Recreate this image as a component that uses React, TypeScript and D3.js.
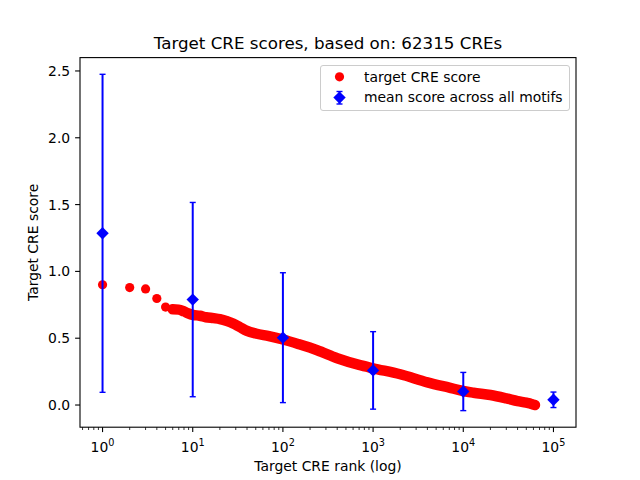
import React, { useEffect, useRef } from "react";
import * as d3 from "d3";

const ranks = [
  1, 2, 3, 4, 5, 6, 7, 8, 9, 10, 12, 14, 17, 20, 24, 28, 33, 40, 50, 70, 100,
  150, 240, 400, 700, 1000, 2000, 4000, 7000, 10000, 13000, 20000, 30000,
  40000, 50000, 57000, 62315,
];
const scores = [
  0.9, 0.879, 0.869, 0.797, 0.733, 0.716, 0.714, 0.7, 0.685, 0.675, 0.668,
  0.657, 0.65, 0.643, 0.628, 0.61, 0.585, 0.555, 0.535, 0.515, 0.49, 0.455,
  0.41, 0.35, 0.3, 0.275, 0.23, 0.17, 0.13, 0.105, 0.092, 0.075, 0.05, 0.03,
  0.017, 0.008, 0.0,
];

// mean score across all motifs, with error bars
const meanRanks = [1, 10, 100, 1000, 10000, 100000];
const meanScores = [1.285, 0.789, 0.504, 0.259, 0.101, 0.039];
const meanErrors = [1.19, 0.727, 0.486, 0.29, 0.143, 0.058];

const yTicks = [0, 0.5, 1, 1.5, 2, 2.5];
const xTickExps = [0, 1, 2, 3, 4, 5];

const title = "Target CRE scores, based on: 62315 CREs";
const xLabel = "Target CRE rank (log)";
const yLabel = "Target CRE score";
const legendLabels = ["target CRE score", "mean score across all motifs"];

const RED = "#ff0000";
const BLUE = "#0000ff";
const FONT = "DejaVu Sans, sans-serif";

const App: React.FC = () => {
  const chartRef = useRef<SVGSVGElement | null>(null);
  const width = 640;
  const height = 480;

  useEffect(() => {
    if (!chartRef.current) return;
    const svg = d3.select(chartRef.current);
    svg.selectAll("*").remove();

    const left = 80;
    const right = 576;
    const top = 57.6;
    const bottom = 427.2;

    const x = d3
      .scaleLog()
      .domain([Math.pow(10, -0.25), Math.pow(10, 5.25)])
      .range([left, right]);
    const y = d3.scaleLinear().domain([-0.166, 2.6]).range([bottom, top]);

    svg
      .append("rect")
      .attr("width", width)
      .attr("height", height)
      .attr("fill", "white");

    const pts = ranks.map((r, i) => ({ r, s: scores[i] }));

    // dense part of the red markers drawn as a thick band
    const band = d3
      .line<{ r: number; s: number }>()
      .x((d) => x(d.r))
      .y((d) => y(d.s))
      .curve(d3.curveMonotoneX);
    svg
      .append("path")
      .attr("d", band(pts.filter((d) => d.r >= 6)) || "")
      .attr("fill", "none")
      .attr("stroke", RED)
      .attr("stroke-width", 10.5)
      .attr("stroke-linecap", "round")
      .attr("stroke-linejoin", "round");

    svg
      .append("g")
      .selectAll("circle")
      .data(pts)
      .enter()
      .append("circle")
      .attr("cx", (d) => x(d.r))
      .attr("cy", (d) => y(d.s))
      .attr("r", 4.6)
      .attr("fill", RED);

    // error bars
    const eb = svg.append("g").attr("stroke", BLUE);
    meanRanks.forEach((r, i) => {
      const cx = x(r);
      const y1 = y(meanScores[i] + meanErrors[i]);
      const y2 = y(meanScores[i] - meanErrors[i]);
      eb.append("line")
        .attr("x1", cx)
        .attr("x2", cx)
        .attr("y1", y1)
        .attr("y2", y2)
        .attr("stroke-width", 2);
      [y1, y2].forEach((cy) =>
        eb
          .append("line")
          .attr("x1", cx - 3)
          .attr("x2", cx + 3)
          .attr("y1", cy)
          .attr("y2", cy)
          .attr("stroke-width", 1.4)
      );
    });

    const diamond = (cx: number, cy: number, h = 6.2) =>
      `M${cx},${cy - h}L${cx + h},${cy}L${cx},${cy + h}L${cx - h},${cy}Z`;
    svg
      .append("g")
      .selectAll("path")
      .data(meanRanks)
      .enter()
      .append("path")
      .attr("d", (r, i) => diamond(x(r), y(meanScores[i])))
      .attr("fill", BLUE);

    // spines
    svg
      .append("rect")
      .attr("x", left)
      .attr("y", top)
      .attr("width", right - left)
      .attr("height", bottom - top)
      .attr("fill", "none")
      .attr("stroke", "black")
      .attr("stroke-width", 1.1);

    // y axis
    const yg = svg.append("g").attr("font-family", FONT).attr("font-size", 13.9);
    yTicks.forEach((t) => {
      yg.append("line")
        .attr("x1", left - 4.9)
        .attr("x2", left)
        .attr("y1", y(t))
        .attr("y2", y(t))
        .attr("stroke", "black")
        .attr("stroke-width", 1.1);
      yg.append("text")
        .attr("x", left - 9.8)
        .attr("y", y(t))
        .attr("dy", "0.36em")
        .attr("text-anchor", "end")
        .text(d3.format(".1f")(t));
    });

    // x axis, major + minor log ticks
    const xg = svg.append("g").attr("font-family", FONT).attr("font-size", 13.9);
    const [d0, d1] = x.domain();
    for (let e = -1; e <= 5; e++) {
      for (let m = 2; m <= 9; m++) {
        const v = m * Math.pow(10, e);
        if (v < d0 || v > d1) continue;
        xg.append("line")
          .attr("x1", x(v))
          .attr("x2", x(v))
          .attr("y1", bottom)
          .attr("y2", bottom + 2.8)
          .attr("stroke", "black")
          .attr("stroke-width", 0.8);
      }
    }
    xTickExps.forEach((e) => {
      const v = Math.pow(10, e);
      xg.append("line")
        .attr("x1", x(v))
        .attr("x2", x(v))
        .attr("y1", bottom)
        .attr("y2", bottom + 4.9)
        .attr("stroke", "black")
        .attr("stroke-width", 1.1);
      const t = xg
        .append("text")
        .attr("x", x(v))
        .attr("y", 452)
        .attr("text-anchor", "middle");
      t.append("tspan").text("10");
      t.append("tspan")
        .attr("font-size", 9.7)
        .attr("dy", -6)
        .text(String(e));
    });

    // labels
    svg
      .append("text")
      .attr("x", (left + right) / 2)
      .attr("y", 49)
      .attr("text-anchor", "middle")
      .attr("font-family", FONT)
      .attr("font-size", 16.7)
      .text(title);
    svg
      .append("text")
      .attr("x", (left + right) / 2)
      .attr("y", 471)
      .attr("text-anchor", "middle")
      .attr("font-family", FONT)
      .attr("font-size", 13.9)
      .text(xLabel);
    svg
      .append("text")
      .attr("transform", `translate(38,${(top + bottom) / 2}) rotate(-90)`)
      .attr("text-anchor", "middle")
      .attr("font-family", FONT)
      .attr("font-size", 13.9)
      .text(yLabel);

    // legend
    const lg = svg.append("g").attr("font-family", FONT).attr("font-size", 13.9);
    lg.append("rect")
      .attr("x", 320.5)
      .attr("y", 65.5)
      .attr("width", 249)
      .attr("height", 45)
      .attr("rx", 2.5)
      .attr("fill", "white")
      .attr("fill-opacity", 0.8)
      .attr("stroke", "#cccccc")
      .attr("stroke-width", 1);
    lg.append("circle")
      .attr("cx", 339.5)
      .attr("cy", 76.8)
      .attr("r", 4.6)
      .attr("fill", RED);
    lg.append("line")
      .attr("x1", 339.5)
      .attr("x2", 339.5)
      .attr("y1", 91.5)
      .attr("y2", 104)
      .attr("stroke", BLUE)
      .attr("stroke-width", 2);
    [91.5, 104].forEach((cy) =>
      lg
        .append("line")
        .attr("x1", 336.5)
        .attr("x2", 342.5)
        .attr("y1", cy)
        .attr("y2", cy)
        .attr("stroke", BLUE)
        .attr("stroke-width", 1.4)
    );
    lg.append("path").attr("d", diamond(339.5, 97.6)).attr("fill", BLUE);
    legendLabels.forEach((l, i) => {
      lg.append("text")
        .attr("x", 364)
        .attr("y", 81.8 + i * 20.6)
        .text(l);
    });
  }, []);

  return (
    <div style={{ position: "absolute", left: 0, top: 0 }}>
      <svg ref={chartRef} width={width} height={height} style={{ display: "block" }} />
    </div>
  );
};

export default App;
